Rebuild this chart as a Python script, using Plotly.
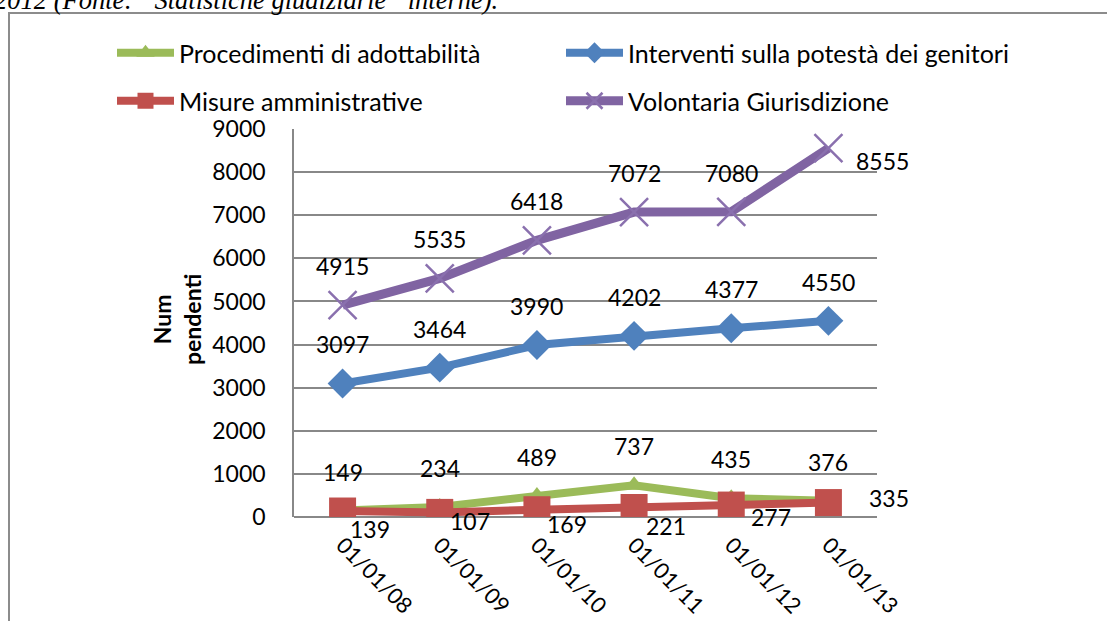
import plotly.graph_objects as go

# ---- data ----
dates = ["01/01/08", "01/01/09", "01/01/10", "01/01/11", "01/01/12", "01/01/13"]
procedimenti = [149, 234, 489, 737, 435, 376]
interventi = [3097, 3464, 3990, 4202, 4377, 4550]
misure = [139, 107, 169, 221, 277, 335]
volontaria = [4915, 5535, 6418, 7072, 7080, 8555]
y_ticks = [0, 1000, 2000, 3000, 4000, 5000, 6000, 7000, 8000, 9000]

names = {
    "proc": "Procedimenti di adottabilità",
    "int": "Interventi sulla potestà dei genitori",
    "mis": "Misure amministrative",
    "vol": "Volontaria Giurisdizione",
}
caption = "2012 (Fonte: “Statistiche giudiziarie” interne)."

# ---- styling ----
W, H = 1107, 621
L, R, T, B = 294, 230, 129, 104
FONT = "Lato"
FS = 23
GREEN, BLUE, RED, PURPLE = "#9BBB59", "#4F81BD", "#C0504D", "#8064A2"
GRID = "#888888"

fig = go.Figure()
fig.add_trace(go.Scatter(x=dates, y=procedimenti, name=names["proc"], mode="lines+markers",
                         line=dict(color=GREEN, width=8),
                         marker=dict(symbol="triangle-up", size=18, color=GREEN),
                         legend="legend"))
fig.add_trace(go.Scatter(x=dates, y=interventi, name=names["int"], mode="lines+markers",
                         line=dict(color=BLUE, width=8),
                         marker=dict(symbol="diamond", size=23, color=BLUE),
                         legend="legend2"))
fig.add_trace(go.Scatter(x=dates, y=misure, name=names["mis"], mode="lines+markers",
                         line=dict(color=RED, width=8),
                         marker=dict(symbol="square", size=27, color=RED),
                         legend="legend3"))
fig.add_trace(go.Scatter(x=dates, y=volontaria, name=names["vol"], mode="lines+markers",
                         line=dict(color=PURPLE, width=9),
                         marker=dict(symbol="x-thin", size=28, color=PURPLE,
                                     line=dict(color="#8A70AE", width=2.5)),
                         legend="legend4"))

# ---- data labels ----
ann = []
def lab(x, y, txt, dx, dy):
    ann.append(dict(x=x, y=y, xref="x", yref="y", text=txt, showarrow=False,
                    xanchor="center", yanchor="middle",
                    xshift=dx, yshift=dy, font=dict(family=FONT, size=FS, color="black")))

for i, d in enumerate(dates):
    lab(d, procedimenti[i], str(procedimenti[i]), 0, 39)
    lab(d, interventi[i], str(interventi[i]), 0, 39)
    if i < len(dates) - 1:
        lab(d, volontaria[i], str(volontaria[i]), 0, 39)
    else:
        lab(d, volontaria[i], str(volontaria[i]), 54, -13)

red_offsets = [(27, -18), (30, -9), (30, -14), (32, -19), (40, -12), (61, 5)]
for i, d in enumerate(dates):
    dx, dy = red_offsets[i]
    lab(d, misure[i], str(misure[i]), dx, dy)

plot_w = W - L - R
plot_h = H - T - B
def px2paper_x(px):
    return (px - L) / plot_w
def px2paper_y(py):
    return (H - B - py) / plot_h

# y axis title
ann.append(dict(x=px2paper_x(177), y=px2paper_y(320), xref="paper", yref="paper",
                xanchor="center", yanchor="middle",
                text="<b>Num<br>pendenti</b>", textangle=-90, showarrow=False,
                font=dict(family=FONT, size=FS, color="black")))
# caption (cut at top)
ann.append(dict(x=px2paper_x(-8), y=px2paper_y(17), xref="paper", yref="paper",
                xanchor="left", yanchor="bottom", text="<i>" + caption + "</i>",
                showarrow=False,
                font=dict(family="Liberation Serif", size=26.5, color="black")))

shapes = [dict(type="rect", xref="paper", yref="paper",
               x0=px2paper_x(9), x1=px2paper_x(1200), y0=px2paper_y(700), y1=px2paper_y(13),
               line=dict(color="#8C8C8C", width=2), fillcolor="rgba(0,0,0,0)", layer="below")]

leg_common = dict(orientation="h", xref="container", yref="container", xanchor="left",
                  yanchor="middle", itemwidth=57, bgcolor="rgba(0,0,0,0)",
                  font=dict(family=FONT, size=25, color="black"))
col1, col2 = 112, 561
row1, row2 = 53, 101

fig.update_layout(
    width=W, height=H, autosize=False,
    margin=dict(l=L, r=R, t=T, b=B, pad=0, autoexpand=False),
    paper_bgcolor="white", plot_bgcolor="white",
    font=dict(family=FONT, size=FS, color="black"),
    showlegend=True,
    legend=dict(**leg_common, x=col1 / W, y=1 - row1 / H),
    legend2=dict(**leg_common, x=col2 / W, y=1 - row1 / H),
    legend3=dict(**leg_common, x=col1 / W, y=1 - row2 / H),
    legend4=dict(**leg_common, x=col2 / W, y=1 - row2 / H),
    xaxis=dict(type="category", range=[-0.5, 5.5], showgrid=False, showline=False,
               zeroline=False, ticks="", tickangle=45, ticklabelstandoff=10, automargin=False,
               tickfont=dict(family=FONT, size=22, color="black")),
    yaxis=dict(range=[0, 9000], tickvals=y_ticks, showgrid=True, gridcolor=GRID, gridwidth=1.5,
               showline=True, linecolor=GRID, linewidth=1.5, zeroline=True, automargin=False,
               zerolinecolor=GRID, zerolinewidth=1.5, ticks="", ticklabelstandoff=22,
               tickfont=dict(family=FONT, size=FS, color="black")),
    annotations=ann, shapes=shapes,
)

fig.write_html("out.html", config={"displayModeBar": False},
               post_script="document.body.style.margin='0px';document.body.style.overflow='hidden';")
